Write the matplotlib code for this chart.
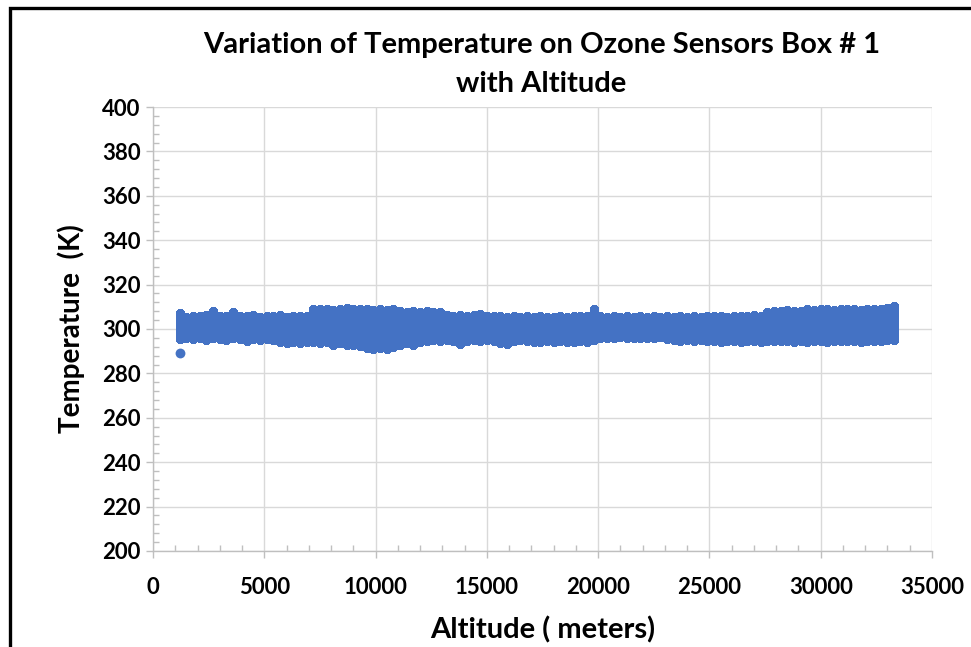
import matplotlib
matplotlib.use("Agg")
import matplotlib.pyplot as plt
from matplotlib.patches import Rectangle
from matplotlib.ticker import MultipleLocator

# Altitude bins (m) and the spread of recorded box temperatures (K) in each bin
altitude = [
    1200, 1500, 1800, 2100, 2400, 2700, 3000, 3300, 3600, 3900,
    4200, 4500, 4800, 5100, 5400, 5700, 6000, 6300, 6600, 6900,
    7200, 7500, 7800, 8100, 8400, 8700, 9000, 9300, 9600, 9900,
    10200, 10500, 10800, 11100, 11400, 11700, 12000, 12300, 12600, 12900,
    13200, 13500, 13800, 14100, 14400, 14700, 15000, 15300, 15600, 15900,
    16200, 16500, 16800, 17100, 17400, 17700, 18000, 18300, 18600, 18900,
    19200, 19500, 19800, 20100, 20400, 20700, 21000, 21300, 21600, 21900,
    22200, 22500, 22800, 23100, 23400, 23700, 24000, 24300, 24600, 24900,
    25200, 25500, 25800, 26100, 26400, 26700, 27000, 27300, 27600, 27900,
    28200, 28500, 28800, 29100, 29400, 29700, 30000, 30300, 30600, 30900,
    31200, 31500, 31800, 32100, 32400, 32700, 33000, 33300,
]
temp_high = [
    307.0, 305.5, 306.0, 305.8, 306.2, 308.0, 306.0, 305.8, 307.5, 306.0,
    305.8, 306.5, 305.5, 306.0, 305.8, 306.2, 305.5, 306.0, 305.8, 306.0,
    309.0, 308.8, 309.2, 308.5, 309.0, 309.3, 308.8, 309.0, 309.2, 308.6,
    309.0, 308.5, 309.0, 308.2, 307.8, 308.0, 307.5, 308.0, 307.8, 307.5,
    306.5, 306.0, 306.2, 305.8, 306.5, 306.8, 306.0, 305.8, 306.0, 305.5,
    305.8, 305.5, 306.0, 305.5, 305.8, 305.2, 305.5, 305.8, 305.5, 305.8,
    305.8, 306.0, 308.8, 306.0, 305.5, 305.8, 305.6, 305.8, 305.5, 305.8,
    305.6, 305.8, 305.5, 305.8, 305.6, 306.0, 305.5, 305.8, 305.6, 305.8,
    305.8, 306.0, 305.6, 305.8, 306.0, 305.8, 306.2, 305.8, 307.8, 308.3,
    308.0, 308.5, 308.2, 308.0, 309.0, 308.5, 308.8, 309.0, 308.6, 308.8,
    308.8, 309.0, 308.5, 309.2, 308.8, 309.0, 309.5, 310.2,
]
temp_low = [
    295.5, 296.0, 295.5, 296.0, 295.2, 296.0, 295.5, 295.0, 296.0, 295.5,
    294.8, 295.5, 295.0, 295.5, 295.0, 294.0, 293.5, 294.0, 293.5, 294.0,
    294.0, 293.5, 294.2, 293.0, 293.5, 292.8, 293.0, 292.5, 291.5, 291.2,
    291.5, 291.2, 292.0, 293.0, 293.5, 293.0, 294.0, 294.5, 295.0, 294.8,
    295.0, 294.5, 293.2, 294.5, 295.0, 294.8, 295.0, 294.5, 293.5, 293.3,
    294.5, 295.0, 294.5, 294.2, 294.0, 294.5, 294.2, 294.5, 294.0, 294.3,
    294.5, 294.0, 295.0, 295.8, 296.0, 295.8, 296.2, 295.8, 296.0, 295.8,
    296.0, 295.8, 296.2, 295.5, 295.0, 294.8, 295.0, 294.6, 295.0, 294.8,
    294.6, 294.0, 294.8, 294.5, 294.2, 294.8, 294.5, 294.0, 294.6, 294.8,
    294.5, 294.8, 294.2, 294.6, 294.0, 294.8, 294.5, 294.2, 294.8, 294.5,
    294.6, 294.8, 294.2, 294.5, 294.8, 294.5, 295.0, 295.2,
]
# Single low reading right after launch
outlier_alt = [1200]
outlier_temp = [289.0]

x_ticks = [0, 5000, 10000, 15000, 20000, 25000, 30000, 35000]
y_ticks = [200, 220, 240, 260, 280, 300, 320, 340, 360, 380, 400]

BLUE = "#4472C4"
GRID = "#d9d9d9"
AXIS = "#bfbfbf"
FONT = "Lato"

fig = plt.figure(figsize=(9.71, 6.47), dpi=100)
ax = fig.add_axes([0.1576, 0.1484, 0.8022, 0.6862])

# Dense readings: each bin drawn as a column of overlapping round markers
cols = ax.vlines(altitude, temp_low, temp_high, colors=BLUE, linewidth=6.2,
                 zorder=3, antialiased=False)
cols.set_capstyle("round")
ax.scatter(outlier_alt, outlier_temp, s=50, color=BLUE, linewidths=0,
           zorder=3)

ax.set_xlim(0, 35000)
ax.set_ylim(200, 400)
ax.set_xticks(x_ticks)
ax.set_yticks(y_ticks)
ax.xaxis.set_minor_locator(MultipleLocator(1000))
ax.yaxis.set_minor_locator(MultipleLocator(4))
ax.grid(True, which="major", color=GRID, linewidth=1.0, zorder=0)
ax.set_axisbelow(True)

for side in ("top", "right"):
    ax.spines[side].set_visible(False)
for side in ("left", "bottom"):
    ax.spines[side].set_color(AXIS)
    ax.spines[side].set_linewidth(1.0)

ax.tick_params(which="major", direction="out", length=5, width=1.0,
               color=AXIS, labelsize=16, labelcolor="black")
ax.tick_params(which="minor", direction="in", length=4, width=1.0,
               color=AXIS)
ax.tick_params(axis="x", which="major", pad=14)
ax.tick_params(axis="y", which="major", pad=4)
for lab in ax.get_xticklabels() + ax.get_yticklabels():
    lab.set_fontfamily(FONT)
    lab.set_fontweight("bold")

ax.set_xlabel("Altitude ( meters)", fontsize=21, fontweight="bold",
              family=FONT, labelpad=13)
ax.set_ylabel("Temperature  (K)", fontsize=20, fontweight="bold",
              family=FONT, labelpad=12)

fig.text(0.5577, 0.930, "Variation of Temperature on Ozone Sensors Box # 1",
         ha="center", va="center", fontsize=21, fontweight="bold",
         family=FONT)
fig.text(0.5577, 0.870, "with Altitude", ha="center", va="center",
         fontsize=21, fontweight="bold", family=FONT)

# Chart frame (runs off the right and bottom edges)
fig.patches.append(Rectangle((10 / 971, -20 / 647), 1.2, (647 - 8 + 20) / 647,
                             transform=fig.transFigure, fill=False,
                             edgecolor="black", linewidth=2.4, zorder=10))

fig.savefig("out.png", dpi=100)
